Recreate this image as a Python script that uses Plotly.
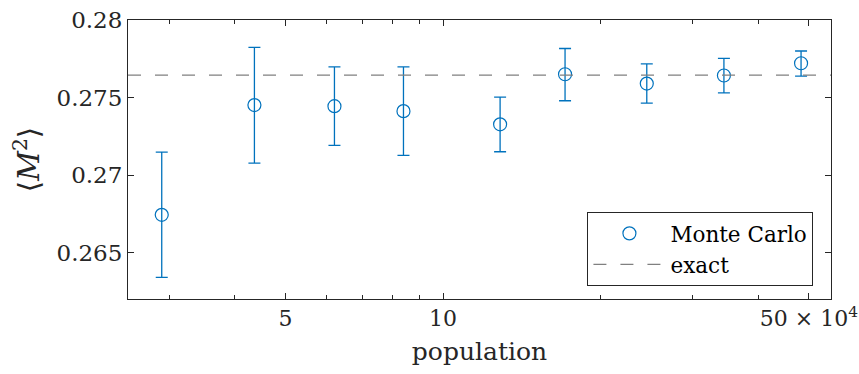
import plotly.graph_objects as go
import numpy as np

# data (population in units of 10^4)
population = [2.90, 4.36, 6.20, 8.40, 12.85, 17.1, 24.5, 34.4, 48.3]
m2_mean = [0.26743, 0.27451, 0.27444, 0.27412, 0.27327, 0.27650, 0.27590, 0.27642, 0.27721]
err_plus = [0.00405, 0.00373, 0.00253, 0.00285, 0.00175, 0.00166, 0.00127, 0.00110, 0.00079]
err_minus = [0.00404, 0.00375, 0.00253, 0.00285, 0.00177, 0.00171, 0.00126, 0.00112, 0.00083]
exact_value = 0.27644
x_limits = [2.5, 55.1]
y_limits = [0.2620, 0.2800]
x_tick_vals = [5, 10, 50]
x_tick_text = ["5", "10", "50 × 10<sup>4</sup>"]
x_minor_vals = [3, 4, 6, 7, 8, 9, 20, 30, 40]
y_tick_vals = [0.265, 0.27, 0.275, 0.28]
y_tick_text = ["0.265", "0.27", "0.275", "0.28"]

BLUE = "#0072BD"
AXC = "#262626"
FONT = "DejaVu Serif"

fig = go.Figure()
fig.add_trace(go.Scatter(
    x=population, y=m2_mean, mode="markers", name="Monte Carlo",
    marker=dict(symbol="circle-open", size=13, color=BLUE, line=dict(width=1.2, color=BLUE)),
    error_y=dict(type="data", symmetric=False, array=err_plus, arrayminus=err_minus,
                 color=BLUE, thickness=1.3, width=6),
))
fig.add_trace(go.Scatter(
    x=x_limits, y=[exact_value, exact_value], mode="lines", name="exact",
    line=dict(color="#808080", width=1.3, dash="13px,14px"),
))

fig.update_layout(
    width=859, height=374,
    margin=dict(l=128, r=28, t=20, b=75),
    paper_bgcolor="white", plot_bgcolor="white",
    font=dict(family=FONT, size=22, color=AXC),
    showlegend=True,
    legend=dict(x=0.975, y=0.047, xanchor="right", yanchor="bottom",
                bgcolor="white", bordercolor=AXC, borderwidth=1,
                font=dict(family=FONT, size=21.5, color="black"),
                itemwidth=72, tracegroupgap=0),
)
fig.update_xaxes(
    type="log", range=[np.log10(x_limits[0]), np.log10(x_limits[1])], automargin=False,
    tickmode="array", tickvals=x_tick_vals, ticktext=x_tick_text, ticklabeloverflow="allow",
    ticks="inside", ticklen=6, tickcolor=AXC, tickwidth=1,
    minor=dict(tickmode="array", tickvals=x_minor_vals, ticks="inside", ticklen=4, tickcolor=AXC, tickwidth=1, showgrid=False),
    showline=True, linecolor=AXC, linewidth=1, mirror="ticks",
    showgrid=False, zeroline=False,
    tickfont=dict(family=FONT, size=22, color=AXC),
    title=dict(text="population", font=dict(family=FONT, size=25, color=AXC), standoff=12),
)
fig.update_yaxes(
    range=y_limits, automargin=False,
    tickmode="array", tickvals=y_tick_vals, ticktext=y_tick_text,
    ticks="inside", ticklen=6, tickcolor=AXC, tickwidth=1,
    showline=True, linecolor=AXC, linewidth=1, mirror="ticks",
    showgrid=False, zeroline=False,
    tickfont=dict(family=FONT, size=23, color=AXC),
    title=dict(text="⟨<i>M</i><sup>2</sup>⟩", font=dict(family=FONT, size=29, color=AXC), standoff=8),
)

fig.write_html("out.html")
